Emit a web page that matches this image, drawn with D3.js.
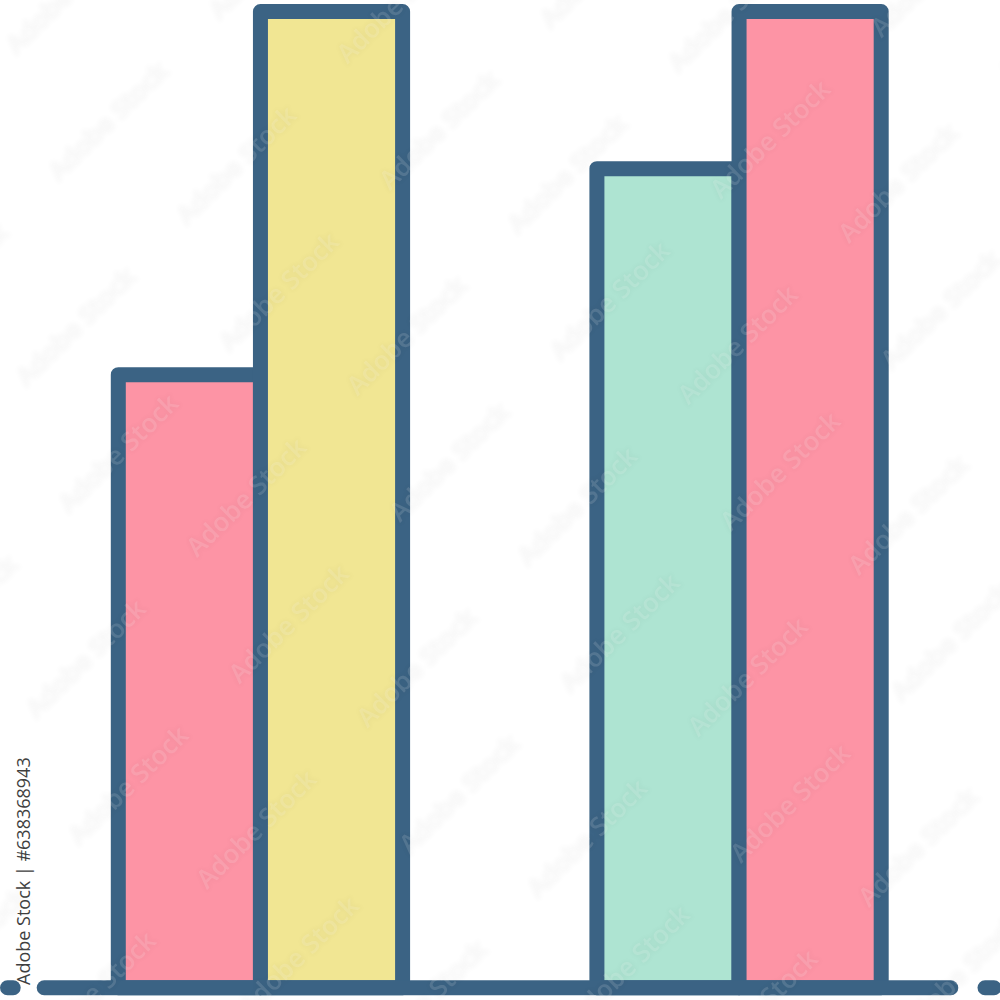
<!DOCTYPE html>
<html>
<head>
<meta charset="utf-8">
<script src="https://cdn.jsdelivr.net/npm/d3@7/dist/d3.min.js"></script>
<style>
  html, body { margin: 0; padding: 0; background: #fff; }
  svg { display: block; }
</style>
</head>
<body>
<div id="chart"></div>
<script>
// values, tallest bar = 100
const groups = ["A", "B"];
const seriesKeys = ["first", "second"];
const firstValues = [62.8, 83.9];
const secondValues = [100, 100];
const firstColors = ["#fd94a5", "#aee4d2"];
const secondColors = ["#f1e693", "#fd94a5"];
const stockLabel = "Adobe Stock | #638368943";
const markText = "Adobe Stock";

const size = 1000;
const lineColor = "#3b6384";
const lineWidth = 15;

const svg = d3.select("#chart").append("svg")
  .attr("width", size)
  .attr("height", size);

const defs = svg.append("defs");
defs.append("filter")
  .attr("id", "soft")
  .attr("x", "-20%").attr("y", "-20%")
  .attr("width", "140%").attr("height", "140%")
  .append("feGaussianBlur")
  .attr("stdDeviation", 2.5);

const x0 = d3.scaleBand()
  .domain(groups)
  .range([118.3, 881.2])
  .paddingInner(0.406);

const x1 = d3.scaleBand()
  .domain(seriesKeys)
  .range([0, x0.bandwidth()]);

const y = d3.scaleLinear()
  .domain([0, 100])
  .range([987.7, 11.5]);

// flat list for drawing, first bar then second bar of each group
const bars = [];
groups.forEach(function(g, i) {
  bars.push({ group: g, key: "first", value: firstValues[i], color: firstColors[i] });
  bars.push({ group: g, key: "second", value: secondValues[i], color: secondColors[i] });
});

svg.append("g")
  .selectAll("rect")
  .data(bars)
  .enter().append("rect")
  .attr("x", function(d) { return x0(d.group) + x1(d.key); })
  .attr("y", function(d) { return y(d.value); })
  .attr("width", x1.bandwidth())
  .attr("height", function(d) { return y(0) - y(d.value); })
  .attr("fill", function(d) { return d.color; })
  .attr("stroke", lineColor)
  .attr("stroke-width", lineWidth)
  .attr("stroke-linejoin", "round");

// baseline with the two short dashes at the ends
const baseline = svg.append("g")
  .attr("stroke", lineColor)
  .attr("stroke-width", lineWidth)
  .attr("stroke-linecap", "round");

[[7.5, 13.2], [44.2, 950.8], [985, 994]].forEach(function(s) {
  baseline.append("line")
    .attr("x1", s[0]).attr("x2", s[1])
    .attr("y1", y(0)).attr("y2", y(0));
});

// watermark tiles
const marks = [];
d3.range(-4, 8).forEach(function(i) {
  d3.range(-4, 8).forEach(function(j) {
    [[108, 121], [236, 165]].forEach(function(p) {
      const mx = p[0] + i * 170.5 - j * 160.5;
      const my = p[1] + i * 170.5 + j * 161.5;
      if (mx > -90 && mx < 1090 && my > -90 && my < 1090) marks.push([mx, my]);
    });
  });
});

function drawMarks(cls) {
  return svg.append("g")
    .attr("class", cls)
    .attr("font-family", "'Open Sans', sans-serif")
    .attr("font-weight", 600)
    .attr("font-size", 26)
    .attr("text-anchor", "middle")
    .selectAll("text")
    .data(marks)
    .enter().append("text")
    .attr("transform", function(d) { return "translate(" + d[0] + "," + d[1] + ") rotate(-44.5)"; })
    .attr("dy", "0.35em")
    .text(markText);
}

drawMarks("mark-halo")
  .attr("fill", "#000")
  .attr("stroke", "#000")
  .attr("stroke-width", 3)
  .attr("opacity", 0.025)
  .attr("filter", "url(#soft)");

drawMarks("mark-text")
  .attr("fill", "#fff")
  .attr("opacity", 0.13);

svg.append("text")
  .attr("transform", "translate(29.5,985) rotate(-90)")
  .attr("font-family", "'Open Sans', sans-serif")
  .attr("font-size", 18)
  .attr("font-weight", 500)
  .attr("fill", "#3f3f3f")
  .text(stockLabel);
</script>
</body>
</html>
